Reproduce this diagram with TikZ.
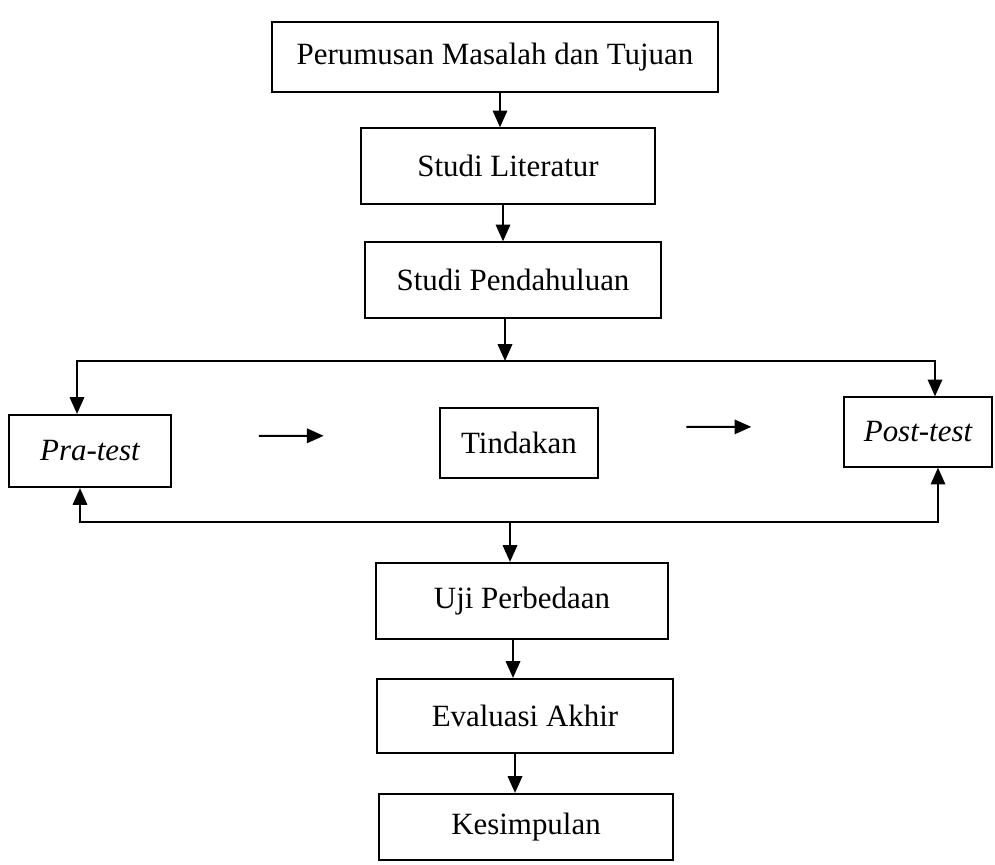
\documentclass[tikz,border=0pt]{standalone}
\usepackage{fontspec}
\setmainfont{Liberation Serif}
\usetikzlibrary{arrows.meta, positioning, calc}

\begin{document}
\begin{tikzpicture}[x=0.025cm, y=-0.025cm,
        box/.style={rectangle, draw, line width=1.5pt, inner sep=0pt, align=center, font=\fontsize{22}{26}\selectfont},
        arrow/.style={-{Triangle[length=0.42cm, width=0.36cm]}, line width=1.5pt},
        twoway/.style={{Triangle[length=0.42cm, width=0.36cm]}-{Triangle[length=0.42cm, width=0.36cm]}, line width=1.5pt}]
        \useasboundingbox (0,0) rectangle (995,864);
        \node[box, minimum width=11.15cm, minimum height=1.75cm] (rumusan) at (495,57) {Perumusan Masalah dan Tujuan};
        \node[box, minimum width=7.33cm, minimum height=1.88cm] (literatur) at (508,166) {Studi Literatur};
        \node[box, minimum width=7.4cm, minimum height=1.88cm] (pendahuluan) at (513,280) {Studi Pendahuluan};
        \node[box, minimum width=4.03cm, minimum height=1.8cm] (pratest) at (90,451) {\itshape Pra-test};
        \node[box, minimum width=3.95cm, minimum height=1.73cm] (tindakan) at (519,443) {Tindakan};
        \node[box, minimum width=3.68cm, minimum height=1.73cm] (posttest) at (918,432) {\itshape Post-test};
        \node[box, minimum width=7.3cm, minimum height=1.9cm] (uji) at (522,601) {Uji Perbedaan};
        \node[box, minimum width=7.38cm, minimum height=1.85cm] (evaluasi) at (525,716) {Evaluasi Akhir};
        \node[box, minimum width=7.33cm, minimum height=1.65cm] (simpulan) at (526,827) {Kesimpulan};

        \coordinate (atasL) at (77,361);
        \coordinate (atasR) at (935,361);
        \coordinate (bawahL) at (80,522);
        \coordinate (bawahR) at (938,522);

        \draw[arrow] (rumusan.south -| 500,0) -- (literatur.north -| 500,0);
        \draw[arrow] (literatur.south -| 503,0) -- (pendahuluan.north -| 503,0);
        \draw[arrow] (pendahuluan.south -| 505,0) -- (atasR -| 505,0);
        \draw[twoway] (atasL |- pratest.north) -- (atasL) -- (atasR) -- (atasR |- posttest.north);
        \draw[twoway] (bawahL |- pratest.south) -- (bawahL) -- (bawahR) -- (bawahR |- posttest.south);
        \draw[arrow] (bawahL -| 510,0) -- (uji.north -| 510,0);
        \draw[arrow] (uji.south -| 513,0) -- (evaluasi.north -| 513,0);
        \draw[arrow] (evaluasi.south -| 515,0) -- (simpulan.north -| 515,0);

        \draw[arrow, shorten <=2.18cm, shorten >=2.88cm] ([yshift=0.38cm]pratest.east) -- ([yshift=0.18cm]tindakan.west);
        \draw[arrow, shorten <=2.18cm, shorten >=2.3cm] ([yshift=0.4cm]tindakan.east) -- ([yshift=0.13cm]posttest.west);
\end{tikzpicture}
\end{document}
